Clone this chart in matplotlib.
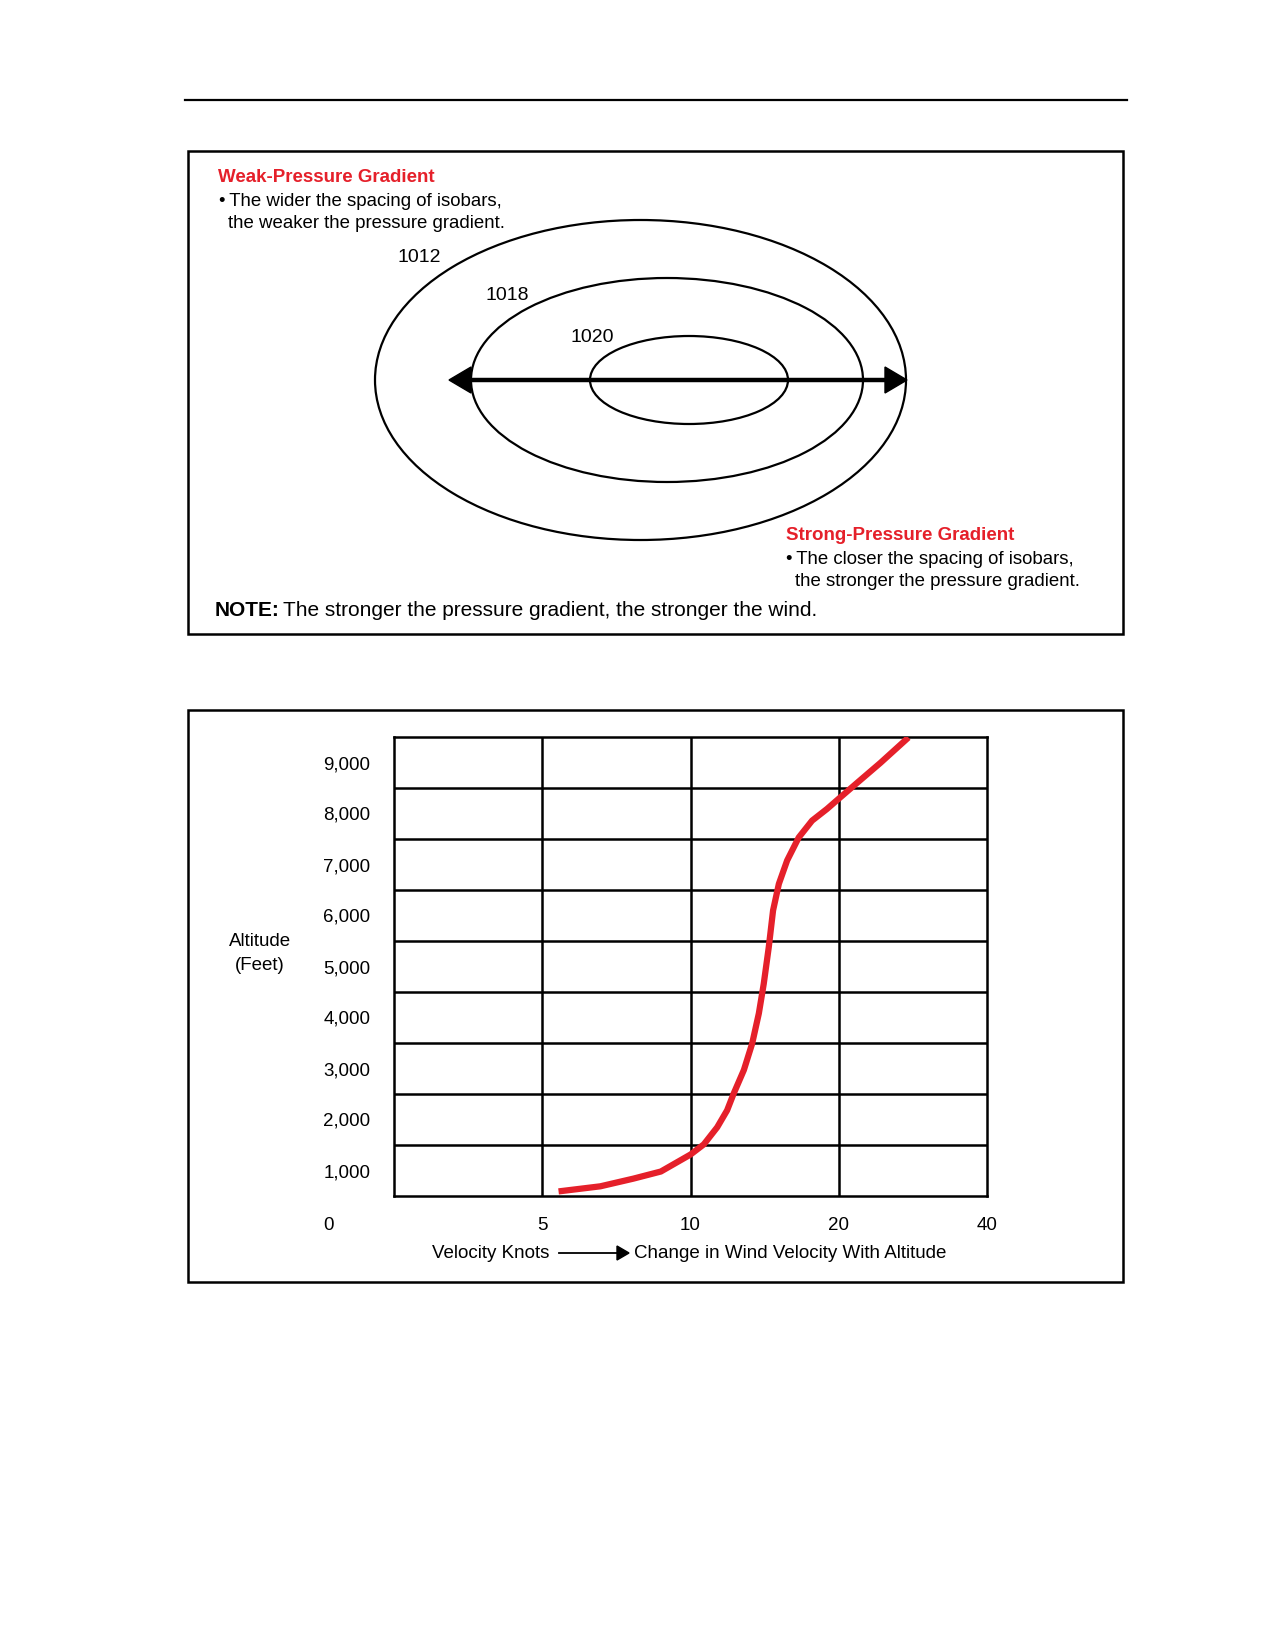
import matplotlib
matplotlib.use("Agg")
import matplotlib.pyplot as plt
from matplotlib.patches import Ellipse, Rectangle, Polygon
import numpy as np

plt.rcParams["font.family"] = ["Liberation Sans", "DejaVu Sans"]

RED = "#e5202a"

# isobar diagram
isobar_labels = ["1012", "1018", "1020"]

# wind velocity vs altitude
knot_ticks = [5, 10, 20, 40]
alt_ticks = [1000, 2000, 3000, 4000, 5000, 6000, 7000, 8000, 9000]
alt_labels = ["1,000", "2,000", "3,000", "4,000", "5,000", "6,000", "7,000", "8,000", "9,000"]
curve_knots = [5.55, 6.96, 8.07, 9.0, 10.0, 10.9, 11.8, 12.47, 12.9, 13.6, 14.16,
               14.61, 14.94, 15.28, 15.57, 15.96, 16.52, 17.3, 18.2, 19.21, 20.0,
               22.47, 25.6, 29.4]
curve_feet = [590, 690, 840, 980, 1313, 1513, 1847, 2180, 2500, 2970, 3490,
              4080, 4660, 5380, 6100, 6620, 7080, 7530, 7860, 8090, 8290,
              8600, 8990, 9490]

fig = plt.figure(figsize=(12.75, 16.5), dpi=100)

# page layer in pixel coordinates
page = fig.add_axes([0, 0, 1, 1])
page.set_xlim(0, 1275)
page.set_ylim(1650, 0)
page.axis("off")

page.plot([185, 1127], [100, 100], color="black", lw=1.6)
page.add_patch(Rectangle((188, 151), 935, 483, fill=False, ec="black", lw=1.8))
page.add_patch(Rectangle((188, 710), 935, 572, fill=False, ec="black", lw=1.8))

# isobars
ellipses = [(640.5, 380, 531, 320), (667, 380, 392, 204), (689, 380, 198, 88)]
for (cx, cy, w, h) in ellipses:
    page.add_patch(Ellipse((cx, cy), w, h, fill=False, ec="black", lw=1.6))
for lab, (x, y) in zip(isobar_labels, [(419, 258), (507, 296), (592, 337)]):
    page.text(x, y, lab, fontsize=14, ha="center", va="center")

# double arrow
page.plot([468, 888], [380, 380], color="black", lw=3.2, solid_capstyle="butt")
page.add_patch(Polygon([[449, 380], [471, 367], [471, 393]], closed=True, fc="black", ec="black"))
page.add_patch(Polygon([[907, 380], [885, 367], [885, 393]], closed=True, fc="black", ec="black"))

page.text(218, 177, "Weak-Pressure Gradient", color=RED, fontsize=13.5, fontweight="bold", va="center")
page.text(219, 201, "\u2022\u2009The wider the spacing of isobars,", fontsize=13.4, va="center")
page.text(228, 224, "the weaker the pressure gradient.", fontsize=13.4, va="center")
page.text(786, 535, "Strong-Pressure Gradient", color=RED, fontsize=13.5, fontweight="bold", va="center")
page.text(786, 559, "\u2022\u2009The closer the spacing of isobars,", fontsize=13.4, va="center")
page.text(795, 582, "the stronger the pressure gradient.", fontsize=13.4, va="center")
page.text(215, 611, "NOTE:", fontsize=15, fontweight="bold", va="center")
page.text(283, 611, "The stronger the pressure gradient, the stronger the wind.", fontsize=15, va="center")

# chart labels outside the axes
page.text(260, 942, "Altitude", fontsize=13.5, ha="center", va="center")
page.text(260, 965, "(Feet)", fontsize=13.5, ha="center", va="center")
page.text(323, 1225, "0", fontsize=13.5, ha="left", va="center")
page.text(549, 1253, "Velocity Knots", fontsize=13.5, ha="right", va="center")
page.plot([559, 620], [1253, 1253], color="black", lw=1.3)
page.add_patch(Polygon([[629, 1253], [617, 1246], [617, 1260]], closed=True, fc="black", ec="black"))
page.text(634, 1253, "Change in Wind Velocity With Altitude", fontsize=13.5, ha="left", va="center")

# chart
ax = fig.add_axes([394 / 1275, 1 - 1196 / 1650, 593 / 1275, 459 / 1650])
ax.set_xlim(0, 4)
ax.set_ylim(500, 9500)
pos = np.interp(curve_knots, knot_ticks, [1, 2, 3, 4])
for k in [1, 2, 3]:
    ax.axvline(k, color="black", lw=1.8)
for a in alt_ticks[:-1]:
    ax.axhline(a + 500, color="black", lw=1.8)
ax.plot(pos, curve_feet, color=RED, lw=4.5, solid_capstyle="butt",
        solid_joinstyle="round", zorder=5)
ax.set_xticks([1, 2, 3, 4])
ax.set_xticklabels([str(k) for k in knot_ticks])
ax.set_yticks(alt_ticks)
ax.set_yticklabels(alt_labels)
ax.tick_params(length=0, labelsize=13.5)
ax.tick_params(axis="y", pad=17)
ax.tick_params(axis="x", pad=15)
for s in ax.spines.values():
    s.set_linewidth(1.8)

fig.savefig("out.png", dpi=100)
